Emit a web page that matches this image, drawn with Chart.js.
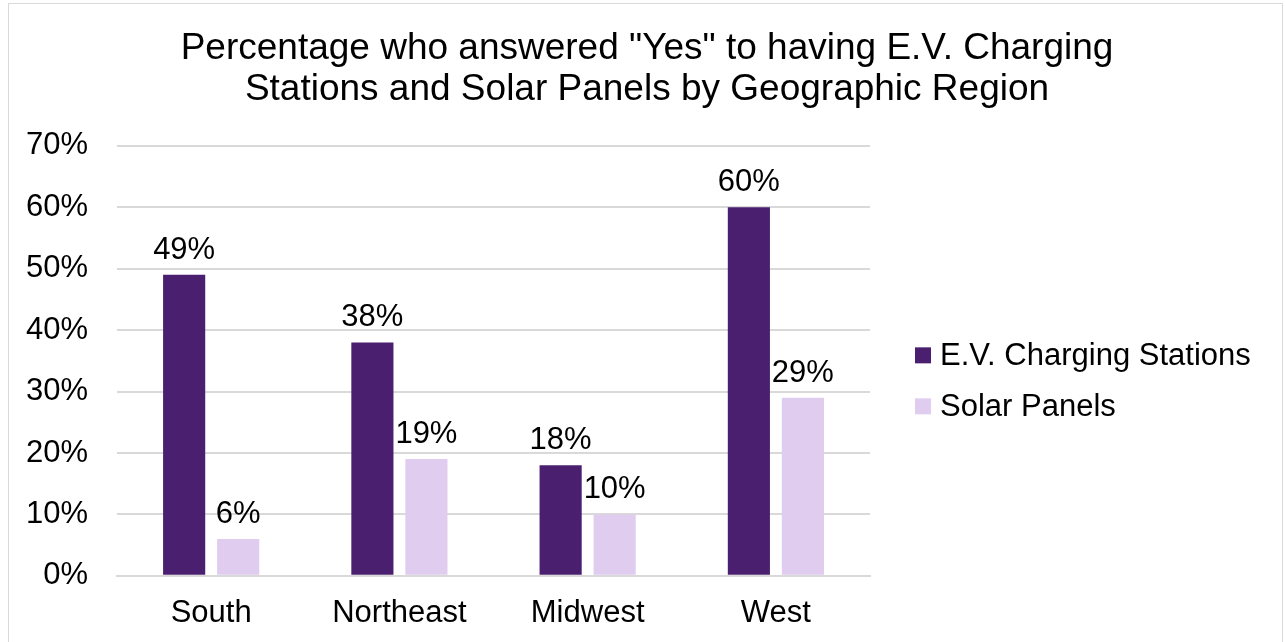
<!DOCTYPE html>
<html lang="en">
<head>
    <meta charset="UTF-8">
    <title>EV Charging and Solar Panels by Region</title>
    <script src="https://cdn.jsdelivr.net/npm/chart.js@4.4.0/dist/chart.umd.min.js"></script>
    <style>
        body { margin: 0; background: #fff; }
        .frame {
            position: absolute; left: 8px; top: 3px;
            width: 1275px; height: 650px;
            border: 1px solid #d9d9d9; box-sizing: border-box;
        }
        .frame canvas { display: block; }
    </style>
</head>
<body>

<div class="frame">
    <canvas id="myChart" width="1273" height="639"></canvas>
</div>

<script>
    var regions = ['South', 'Northeast', 'Midwest', 'West'];
    var evCharging = [49, 38, 18, 60];
    var solarPanels = [6, 19, 10, 29];
    var seriesNames = ['E.V. Charging Stations', 'Solar Panels'];
    var yTicks = [0, 10, 20, 30, 40, 50, 60, 70];

    var fontFamily = '"Liberation Sans", Arial, sans-serif';
    var labelSize = 31;

    // draws the % labels above each bar
    var barLabels = {
        id: 'barLabels',
        afterDatasetsDraw: function (chart) {
            var ctx = chart.ctx;
            ctx.save();
            ctx.font = labelSize + 'px ' + fontFamily;
            ctx.fillStyle = '#000';
            ctx.textAlign = 'center';
            ctx.textBaseline = 'alphabetic';
            chart.data.datasets.forEach(function (ds, i) {
                var meta = chart.getDatasetMeta(i);
                meta.data.forEach(function (bar, j) {
                    ctx.fillText(ds.data[j] + '%', bar.x, bar.y - 16);
                });
            });
            ctx.restore();
        }
    };

    // built-in legend gets squeezed on the right, so draw it by hand
    var sideLegend = {
        id: 'sideLegend',
        afterDraw: function (chart) {
            var ctx = chart.ctx;
            var area = chart.chartArea;
            var x = area.right + 45;
            var mid = (area.top + area.bottom) / 2 + 20;
            ctx.save();
            ctx.font = labelSize + 'px ' + fontFamily;
            ctx.textBaseline = 'middle';
            ctx.textAlign = 'left';
            chart.data.datasets.forEach(function (ds, i) {
                var y = mid + (i - 0.5) * 51;
                ctx.fillStyle = ds.backgroundColor;
                ctx.fillRect(x, y - 8, 16, 16);
                ctx.fillStyle = '#000';
                ctx.fillText(ds.label, x + 25, y + 1);
            });
            ctx.restore();
        }
    };

    var ctx = document.getElementById('myChart').getContext('2d');
    var chart = new Chart(ctx, {
        type: 'bar',
        data: {
            labels: regions,
            datasets: [
                {
                    label: seriesNames[0],
                    data: evCharging,
                    backgroundColor: '#4b1f6f'
                },
                {
                    label: seriesNames[1],
                    data: solarPanels,
                    backgroundColor: '#dfccef'
                }
            ]
        },
        options: {
            responsive: false,
            animation: false,
            devicePixelRatio: 1,
            layout: { padding: { left: -12, right: -15, top: 0, bottom: 0 } },
            datasets: {
                bar: { categoryPercentage: 0.574, barPercentage: 0.78 }
            },
            plugins: {
                title: {
                    display: true,
                    text: ['Percentage who answered "Yes" to having E.V. Charging', 'Stations and Solar Panels by Geographic Region'],
                    color: '#000',
                    font: { family: fontFamily, size: 37, weight: 'normal', lineHeight: 1.12 },
                    padding: { top: 24, bottom: 35 }
                },
                legend: { display: false },
                tooltip: { enabled: false }
            },
            scales: {
                x: {
                    grid: { display: false },
                    border: { color: '#d9d9d9', width: 2 },
                    ticks: {
                        color: '#000',
                        font: { family: fontFamily, size: labelSize },
                        padding: 11
                    }
                },
                y: {
                    min: 0,
                    max: yTicks[yTicks.length - 1],
                    afterBuildTicks: function (axis) {
                        axis.ticks = yTicks.map(function (v) { return { value: v }; });
                    },
                    grid: { color: '#d9d9d9', lineWidth: 2, drawTicks: false },
                    border: { display: false },
                    ticks: {
                        color: '#000',
                        font: { family: fontFamily, size: labelSize },
                        padding: 29,
                        callback: function (v) { return v + '%'; }
                    }
                },
                // empty axis that just reserves room for the legend
                legendSpace: {
                    type: 'linear',
                    position: 'right',
                    grid: { display: false },
                    border: { display: false },
                    ticks: { display: false },
                    afterFit: function (axis) { axis.width = 427; }
                }
            }
        },
        plugins: [barLabels, sideLegend]
    });
</script>

</body>
</html>
